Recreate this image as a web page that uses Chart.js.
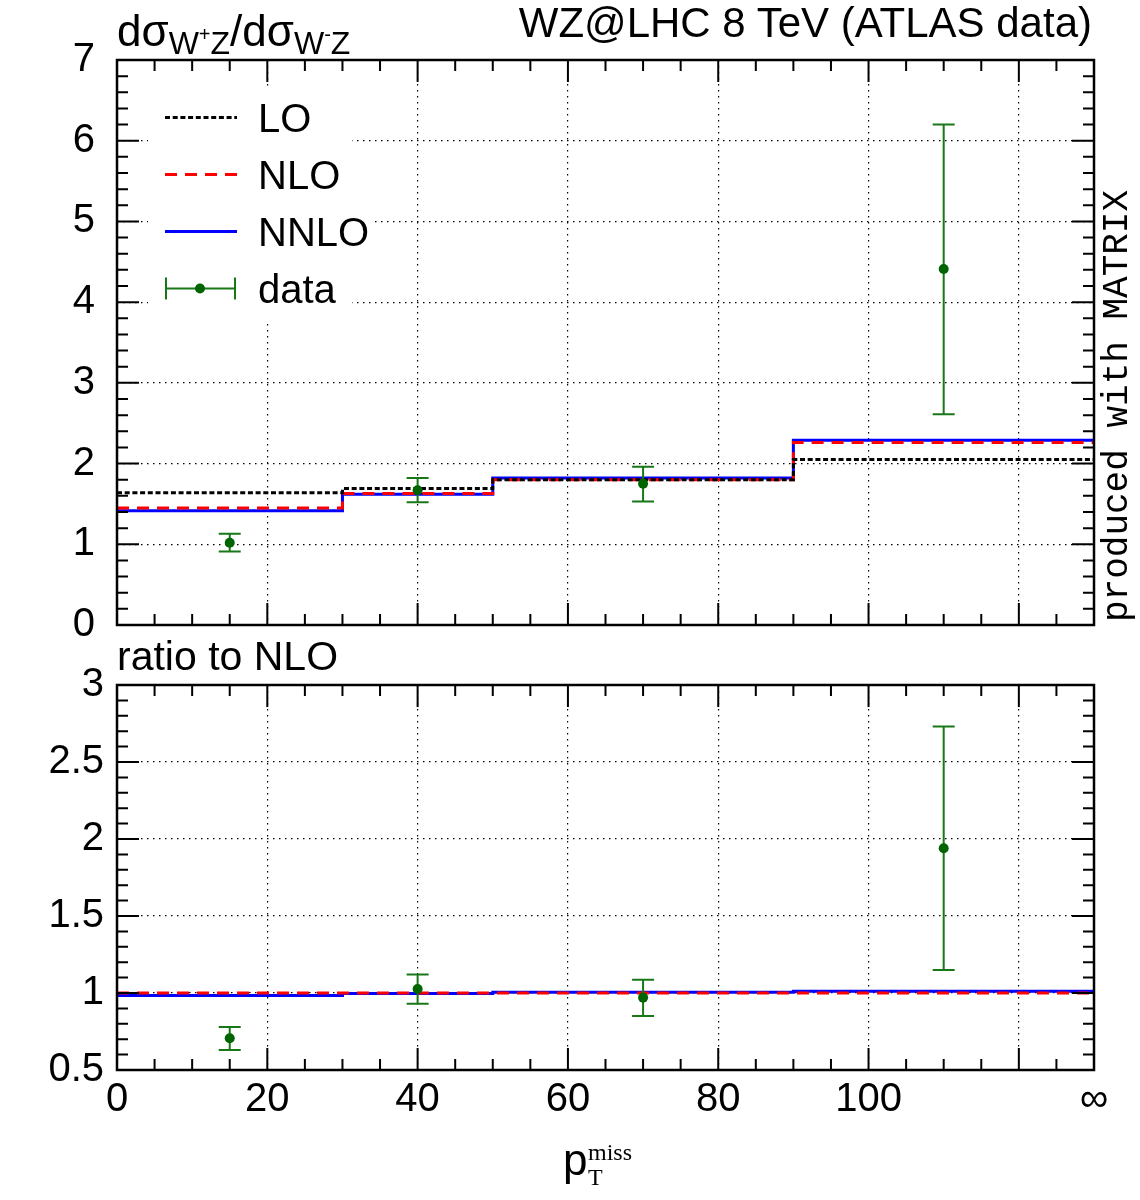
<!DOCTYPE html>
<html>
<head>
<meta charset="utf-8">
<title>WZ@LHC 8 TeV</title>
<script src="https://cdn.jsdelivr.net/npm/chart.js@4.4.1/dist/chart.umd.min.js"></script>
<style>
  body { margin: 0; background: #fff; }
  #page { position: relative; width: 1140px; height: 1200px; overflow: hidden; background: #fff; }
  canvas { position: absolute; left: 0; }
  .txt { position: absolute; font-family: "Liberation Sans", Arial, sans-serif; line-height: 1; white-space: nowrap; color: #000; }
  .sub { position: relative; font-size: 32px; top: 8px; }
  .sub i { font-style: normal; font-size: 20px; position: relative; top: -13px; }
  .serif { font-family: "Liberation Serif", "Times New Roman", serif; font-size: 24px; }
  #matrix { left: 1100px; top: 622px; font-family: "Liberation Mono", monospace; font-size: 36px; transform-origin: 0 0; transform: rotate(-90deg); }
</style>
</head>
<body>
<div id="page">
  <canvas id="ratioChart" width="1140" height="560" style="top:640px"></canvas>
  <canvas id="mainChart" width="1140" height="700" style="top:0"></canvas>
  <div class="txt" style="left:117px; top:9px; font-size:44px">dσ<span class="sub">W<i>+</i>Z</span>/dσ<span class="sub">W<i>-</i>Z</span></div>
  <div class="txt" style="right:48px; top:2px; font-size:42px">WZ@LHC 8 TeV (ATLAS data)</div>
  <div class="txt" style="left:117px; top:636px; font-size:41px">ratio to NLO</div>
  <div class="txt" id="matrix">produced with MATRIX</div>
  <div class="txt" style="left:563px; top:1138px; font-size:44px">p</div>
  <div class="txt serif" style="left:588px; top:1165px">T</div>
  <div class="txt serif" style="left:588px; top:1140px">miss</div>
</div>
<script>
// bins: 0-30, 30-50, 50-90, 90-inf (inf drawn at 130)
const binEdges = [0, 30, 50, 90, 130];
const loValues = [1.64, 1.69, 1.80, 2.05];
const nloValues = [1.45, 1.63, 1.80, 2.26];
const nnloValues = [1.415, 1.62, 1.82, 2.29];

const dataX = [15, 40, 70, 110];
const dataY = [1.02, 1.67, 1.75, 4.41];
const dataLow = [0.91, 1.52, 1.53, 2.61];
const dataHigh = [1.13, 1.82, 1.96, 6.20];

// ratio to NLO
const nloRatio = [1, 1, 1, 1];
const nnloRatio = [0.983, 0.996, 1.005, 1.011];
const ratioY = [0.706, 1.026, 0.97, 1.94];
const ratioLow = [0.63, 0.93, 0.85, 1.15];
const ratioHigh = [0.78, 1.12, 1.086, 2.73];

const xTickValues = [0, 20, 40, 60, 80, 100, 120, 130];
const xTickLabels = ['0', '20', '40', '60', '80', '100', '', '∞'];
const mainTickValues = [0, 1, 2, 3, 4, 5, 6, 7];
const mainTickLabels = ['0', '1', '2', '3', '4', '5', '6', '7'];
const ratioTickValues = [0.5, 1, 1.5, 2, 2.5, 3];
const ratioTickLabels = ['0.5', '1', '1.5', '2', '2.5', '3'];

const DATA_GREEN = 'rgb(0,100,0)';
const BAR_GREEN = 'rgb(24,120,24)';
const GRID_DASH = [1.5, 4.5];

Chart.defaults.font.family = '"Liberation Sans", Arial, sans-serif';
Chart.defaults.font.size = 40;
Chart.defaults.color = '#000';
Chart.defaults.animation = false;

function steps(values) {
    const pts = values.map((v, i) => ({ x: binEdges[i], y: v }));
    pts.push({ x: binEdges[binEdges.length - 1], y: values[values.length - 1] });
    return pts;
}

function points(ys) {
    return dataX.map((x, i) => ({ x: x, y: ys[i] }));
}

function stepSet(label, values, color, dash, order) {
    return {
        label: label, data: steps(values), borderColor: color, borderWidth: 3,
        borderDash: dash, stepped: true, pointRadius: 0, fill: false, order: order
    };
}

function dataSet(ys, lo, hi) {
    return {
        label: 'data', data: points(ys), errLow: lo, errHigh: hi, errColor: BAR_GREEN,
        showLine: false, pointRadius: 5, pointBorderWidth: 0,
        pointBackgroundColor: DATA_GREEN, borderColor: DATA_GREEN, order: 0
    };
}

function axis(values, labels, min, max, labelColor, padding, fit) {
    return {
        type: 'linear', min: min, max: max,
        afterBuildTicks: s => { s.ticks = values.map(v => ({ value: v })); },
        afterFit: fit,
        ticks: { color: labelColor, autoSkip: false, maxRotation: 0, padding: padding, callback: (v, i) => labels[i] },
        grid: { color: '#000', lineWidth: 1.2, drawTicks: false, borderDash: GRID_DASH },
        border: { display: false, dash: GRID_DASH }
    };
}

function isMajor(v, step) {
    return Math.abs(v / step - Math.round(v / step)) < 1e-6;
}

// frame with inward major/minor ticks on all four sides
const frameTicks = {
    id: 'frameTicks',
    afterDatasetsDraw(chart, args, o) {
        const { ctx, chartArea: a, scales: { x, y } } = chart;
        ctx.save();
        ctx.strokeStyle = '#000';
        ctx.lineWidth = 2;
        ctx.setLineDash([]);
        ctx.beginPath();
        const nx = Math.round((x.max - x.min) / o.xMinor);
        for (let i = 0; i <= nx; i++) {
            const v = x.min + i * o.xMinor;
            const len = isMajor(v, o.xMajor) ? 22 : 11;
            const px = x.getPixelForValue(v);
            ctx.moveTo(px, a.bottom); ctx.lineTo(px, a.bottom - len);
            ctx.moveTo(px, a.top); ctx.lineTo(px, a.top + len);
        }
        const ny = Math.round((y.max - y.min) / o.yMinor);
        for (let i = 0; i <= ny; i++) {
            const v = y.min + i * o.yMinor;
            const len = isMajor(v, o.yMajor) ? 22 : 11;
            const py = y.getPixelForValue(v);
            ctx.moveTo(a.left, py); ctx.lineTo(a.left + len, py);
            ctx.moveTo(a.right, py); ctx.lineTo(a.right - len, py);
        }
        ctx.stroke();
        ctx.lineWidth = 2.5;
        ctx.strokeRect(a.left, a.top, a.right - a.left, a.bottom - a.top);
        ctx.restore();
    }
};

const errorBars = {
    id: 'errorBars',
    beforeDatasetDraw(chart, args) {
        const ds = chart.data.datasets[args.index];
        if (!ds.errLow) return;
        const { ctx, scales: { x, y } } = chart;
        ctx.save();
        ctx.strokeStyle = ds.errColor;
        ctx.lineWidth = 2;
        ctx.setLineDash([]);
        ctx.beginPath();
        ds.data.forEach((p, j) => {
            const px = x.getPixelForValue(p.x);
            const lo = y.getPixelForValue(ds.errLow[j]);
            const hi = y.getPixelForValue(ds.errHigh[j]);
            ctx.moveTo(px, lo); ctx.lineTo(px, hi);
            ctx.moveTo(px - 11, lo); ctx.lineTo(px + 11, lo);
            ctx.moveTo(px - 11, hi); ctx.lineTo(px + 11, hi);
        });
        ctx.stroke();
        ctx.restore();
    }
};

// gnuplot style key with white background over the grid
const legendBox = {
    id: 'legendBox',
    afterDraw(chart) {
        const ctx = chart.ctx;
        ctx.save();
        ctx.fillStyle = '#fff';
        ctx.fillRect(148, 90, 204, 230);
        ctx.font = '40px "Liberation Sans", Arial, sans-serif';
        ctx.textBaseline = 'alphabetic';
        chart.data.datasets.forEach((ds, i) => {
            const base = 131.5 + 57 * i;
            const cy = base - 14;
            const w = ctx.measureText(ds.label).width;
            ctx.fillStyle = '#fff';
            ctx.fillRect(255, base - 32, w + 6, 42);
            ctx.fillStyle = '#000';
            ctx.fillText(ds.label, 258, base);
            ctx.beginPath();
            if (ds.errLow) {
                ctx.strokeStyle = ds.errColor;
                ctx.lineWidth = 2;
                ctx.setLineDash([]);
                ctx.moveTo(166, cy); ctx.lineTo(235, cy);
                ctx.moveTo(166, cy - 11); ctx.lineTo(166, cy + 11);
                ctx.moveTo(235, cy - 11); ctx.lineTo(235, cy + 11);
                ctx.stroke();
                ctx.fillStyle = ds.pointBackgroundColor;
                ctx.beginPath();
                ctx.arc(200, cy, 5, 0, 2 * Math.PI);
                ctx.fill();
            } else {
                ctx.strokeStyle = ds.borderColor;
                ctx.lineWidth = ds.borderWidth;
                ctx.setLineDash(ds.borderDash || []);
                ctx.moveTo(165, cy); ctx.lineTo(237, cy);
                ctx.stroke();
            }
        });
        ctx.restore();
    }
};

new Chart(document.getElementById('mainChart'), {
    type: 'line',
    data: {
        datasets: [
            stepSet('LO', loValues, '#000', [5, 2.7], 1),
            stepSet('NLO', nloValues, 'rgb(255,0,0)', [12, 8], 2),
            stepSet('NNLO', nnloValues, 'rgb(0,0,255)', [], 3),
            dataSet(dataY, dataLow, dataHigh)
        ]
    },
    options: {
        responsive: false,
        layout: { autoPadding: false, padding: { left: 0, top: 60, right: 46, bottom: 15 } },
        scales: {
            // labels hidden here: the ratio panel below carries them
            x: axis(xTickValues, xTickLabels, 0, 130, 'rgba(0,0,0,0)', 6, s => { s.height = 60; }),
            y: axis(mainTickValues, mainTickLabels, 0, 7, '#000', 22, s => { s.width = 117; })
        },
        plugins: {
            legend: { display: false },
            tooltip: { enabled: false },
            frameTicks: { xMinor: 5, xMajor: 20, yMinor: 0.2, yMajor: 1 }
        }
    },
    plugins: [errorBars, frameTicks, legendBox]
});

new Chart(document.getElementById('ratioChart'), {
    type: 'line',
    data: {
        datasets: [
            stepSet('NLO', nloRatio, 'rgb(255,0,0)', [12, 8], 2),
            stepSet('NNLO', nnloRatio, 'rgb(0,0,255)', [], 3),
            dataSet(ratioY, ratioLow, ratioHigh)
        ]
    },
    options: {
        responsive: false,
        layout: { autoPadding: false, padding: { left: 0, top: 45, right: 46, bottom: 70 } },
        scales: {
            x: axis(xTickValues, xTickLabels, 0, 130, '#000', 6, s => { s.height = 60; }),
            y: axis(ratioTickValues, ratioTickLabels, 0.5, 3, '#000', 13, s => { s.width = 117; })
        },
        plugins: {
            legend: { display: false },
            tooltip: { enabled: false },
            frameTicks: { xMinor: 5, xMajor: 20, yMinor: 0.1, yMajor: 0.5 }
        }
    },
    plugins: [errorBars, frameTicks]
});
</script>
</body>
</html>
